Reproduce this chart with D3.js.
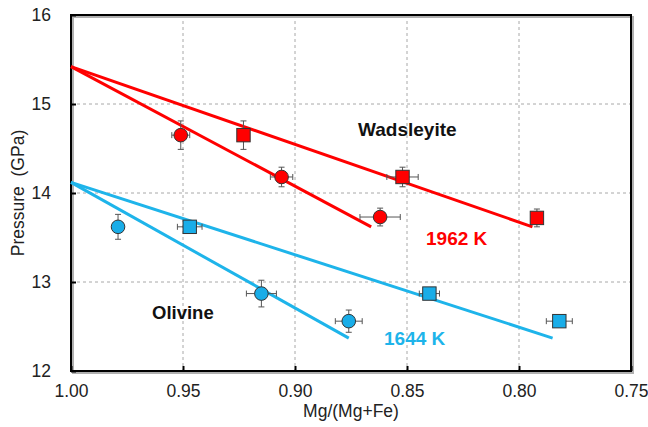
<!DOCTYPE html>
<html>
<head>
<meta charset="utf-8">
<script src="https://cdn.jsdelivr.net/npm/d3@7"></script>
<style>
  html, body { margin: 0; padding: 0; background: #fff; }
  svg { display: block; font-family: "Liberation Sans", Arial, sans-serif; }
</style>
</head>
<body>
<svg id="chart" width="648" height="427"></svg>
<script>
// ---- data ----
const xTicks = [1.00, 0.95, 0.90, 0.85, 0.80, 0.75];
const yTicks = [12, 13, 14, 15, 16];

// 1962 K (red)
const redCircleX = [0.951, 0.906, 0.862];
const redCircleP = [14.65, 14.18, 13.73];
const redCircleXErr = [0.004, 0.005, 0.009];
const redCirclePErr = [0.16, 0.11, 0.10];

const redSquareX = [0.923, 0.852, 0.792];
const redSquareP = [14.65, 14.18, 13.72];
const redSquareXErr = [0.0, 0.007, 0.0015];
const redSquarePErr = [0.16, 0.11, 0.10];

const redLineUpperX = [1.00, 0.794];
const redLineUpperP = [15.42, 13.62];
const redLineLowerX = [1.00, 0.866];
const redLineLowerP = [15.42, 13.62];

// 1644 K (blue)
const blueCircleX = [0.979, 0.915, 0.876];
const blueCircleP = [13.62, 12.87, 12.56];
const blueCircleXErr = [0.0, 0.0067, 0.006];
const blueCirclePErr = [0.14, 0.15, 0.125];

const blueSquareX = [0.947, 0.840, 0.782];
const blueSquareP = [13.62, 12.87, 12.56];
const blueSquareXErr = [0.0055, 0.0045, 0.0058];
const blueSquarePErr = [0.03, 0.03, 0.03];

const blueLineUpperX = [1.00, 0.785];
const blueLineUpperP = [14.12, 12.37];
const blueLineLowerX = [1.00, 0.876];
const blueLineLowerP = [14.12, 12.37];

// ---- layout ----
const L = 71, R = 631, T = 15, B = 371;
const RED = "#ff0000", BLUE = "#1eb4ea", BLUE_M = "#19ade8";

const svg = d3.select("#chart");
const x = d3.scaleLinear().domain([1.00, 0.75]).range([L, R]);
const y = d3.scaleLinear().domain([12, 16]).range([B, T]);

// grid
const grid = svg.append("g");
grid.selectAll("line.gx").data(xTicks.slice(1, -1)).enter().append("line")
  .attr("x1", d => x(d)).attr("x2", d => x(d)).attr("y1", T).attr("y2", B)
  .attr("stroke", "#a8a8a8").attr("stroke-width", 1).attr("stroke-dasharray", "3,3");
grid.selectAll("line.gy").data(yTicks.slice(1, -1)).enter().append("line")
  .attr("x1", L).attr("x2", R).attr("y1", d => y(d)).attr("y2", d => y(d))
  .attr("stroke", "#a8a8a8").attr("stroke-width", 1).attr("stroke-dasharray", "3,3");

// frame shadow
svg.append("rect").attr("x", L + 2).attr("y", T + 2).attr("width", R - L).attr("height", B - T)
  .attr("fill", "none").attr("stroke", "#b0b0b0").attr("stroke-width", 2);
// frame
svg.append("rect").attr("x", L).attr("y", T).attr("width", R - L).attr("height", B - T)
  .attr("fill", "none").attr("stroke", "#000").attr("stroke-width", 2);

// axes (ticks inward)
const xAxis = d3.axisBottom(x).tickValues(xTicks).tickSizeInner(-5).tickSizeOuter(0)
  .tickPadding(14).tickFormat(d3.format(".2f"));
const gx = svg.append("g").attr("transform", `translate(0,${B})`).call(xAxis);
gx.select(".domain").remove();
gx.selectAll(".tick line").attr("stroke", "#000").attr("stroke-width", 2);
gx.selectAll(".tick text").attr("font-size", 17.5).attr("fill", "#222")
  .attr("font-family", "Liberation Sans, Arial, sans-serif");

const yAxis = d3.axisLeft(y).tickValues(yTicks).tickSizeInner(-5).tickSizeOuter(0)
  .tickPadding(20).tickFormat(d3.format("d"));
const gy = svg.append("g").attr("transform", `translate(${L},0)`).call(yAxis);
gy.select(".domain").remove();
gy.selectAll(".tick line").attr("stroke", "#000").attr("stroke-width", 2);
gy.selectAll(".tick text").attr("font-size", 17.5).attr("fill", "#222")
  .attr("font-family", "Liberation Sans, Arial, sans-serif");

// axis titles
svg.append("text").attr("x", (L + R) / 2).attr("y", 417).attr("text-anchor", "middle")
  .attr("font-size", 17.5).attr("fill", "#222").text("Mg/(Mg+Fe)");
svg.append("text").attr("transform", `translate(24,${193}) rotate(-90)`)
  .attr("text-anchor", "middle").attr("font-size", 17.5).attr("fill", "#222")
  .attr("xml:space", "preserve").text("Pressure  (GPa)");

// fit lines
const lineGen = d3.line().x(d => x(d[0])).y(d => y(d[1]));
function drawLine(xs, ps, color) {
  svg.append("path").datum(xs.map((v, i) => [v, ps[i]]))
    .attr("d", lineGen).attr("fill", "none").attr("stroke", color).attr("stroke-width", 3);
}
drawLine(redLineUpperX, redLineUpperP, RED);
drawLine(redLineLowerX, redLineLowerP, RED);
drawLine(blueLineUpperX, blueLineUpperP, BLUE);
drawLine(blueLineLowerX, blueLineLowerP, BLUE);

// error bars + markers
function drawSeries(xs, ps, xe, pe, shape, fill) {
  const data = xs.map((v, i) => ({ x: v, p: ps[i], xe: xe[i], pe: pe[i] }));
  const g = svg.append("g");
  const eb = g.append("g").attr("stroke", "#555").attr("stroke-width", 1);
  data.forEach(d => {
    const cx = x(d.x), cy = y(d.p);
    if (d.pe > 0) {
      const y1 = y(d.p + d.pe), y2 = y(d.p - d.pe);
      eb.append("line").attr("x1", cx).attr("x2", cx).attr("y1", y1).attr("y2", y2);
      eb.append("line").attr("x1", cx - 3).attr("x2", cx + 3).attr("y1", y1).attr("y2", y1);
      eb.append("line").attr("x1", cx - 3).attr("x2", cx + 3).attr("y1", y2).attr("y2", y2);
    }
    if (d.xe > 0) {
      const x1 = x(d.x + d.xe), x2 = x(d.x - d.xe);
      eb.append("line").attr("x1", x1).attr("x2", x2).attr("y1", cy).attr("y2", cy);
      eb.append("line").attr("x1", x1).attr("x2", x1).attr("y1", cy - 3).attr("y2", cy + 3);
      eb.append("line").attr("x1", x2).attr("x2", x2).attr("y1", cy - 3).attr("y2", cy + 3);
    }
  });
  if (shape === "circle") {
    g.selectAll("circle").data(data).enter().append("circle")
      .attr("cx", d => x(d.x)).attr("cy", d => y(d.p)).attr("r", 6.8)
      .attr("fill", fill).attr("stroke", "#333").attr("stroke-width", 1);
  } else {
    g.selectAll("rect").data(data).enter().append("rect")
      .attr("x", d => x(d.x) - 6.7).attr("y", d => y(d.p) - 6.7)
      .attr("width", 13.4).attr("height", 13.4)
      .attr("fill", fill).attr("stroke", "#333").attr("stroke-width", 1);
  }
}
drawSeries(redCircleX, redCircleP, redCircleXErr, redCirclePErr, "circle", RED);
drawSeries(redSquareX, redSquareP, redSquareXErr, redSquarePErr, "square", RED);
drawSeries(blueCircleX, blueCircleP, blueCircleXErr, blueCirclePErr, "circle", BLUE_M);
drawSeries(blueSquareX, blueSquareP, blueSquareXErr, blueSquarePErr, "square", BLUE_M);

// annotations
svg.append("text").attr("x", 358).attr("y", 136).attr("font-size", 19).attr("font-weight", "bold")
  .attr("fill", "#111").text("Wadsleyite");
svg.append("text").attr("x", 152).attr("y", 319).attr("font-size", 18.5).attr("font-weight", "bold")
  .attr("fill", "#111").text("Olivine");
svg.append("text").attr("x", 426).attr("y", 245).attr("font-size", 19).attr("font-weight", "bold")
  .attr("fill", RED).text("1962 K");
svg.append("text").attr("x", 384).attr("y", 345).attr("font-size", 19).attr("font-weight", "bold")
  .attr("fill", BLUE).text("1644 K");
</script>
</body>
</html>
